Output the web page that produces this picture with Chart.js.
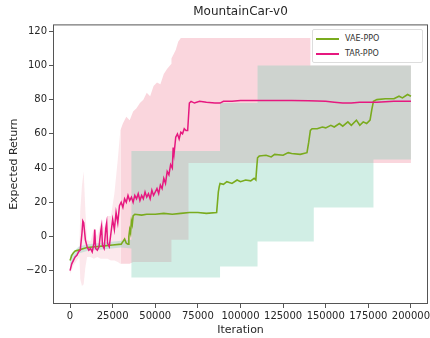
<!DOCTYPE html>
<html>
<head>
<meta charset="utf-8">
<script src="https://cdn.jsdelivr.net/npm/chart.js@4.4.0/dist/chart.umd.min.js"></script>
<style>
  html, body { margin: 0; padding: 0; background: #fff; }
  #wrap { position: relative; width: 430px; height: 338px; }
  #legend {
    position: absolute; left: 312px; top: 29px; width: 111px; height: 34px;
    background: #fff; border: 1px solid #ddd; border-radius: 2px; box-sizing: border-box;
    font: 8px "DejaVu Sans"; color: #333;
  }
  .item { position: absolute; left: 3px; height: 10px; line-height: 10px; }
  .item span.sw { position: absolute; left: 0; top: 4px; width: 23px; height: 2px; }
  .item span.tx { position: absolute; left: 29px; top: 0; white-space: nowrap; }
</style>
</head>
<body>
<div id="wrap">
  <canvas id="chart" width="430" height="338"></canvas>
  <div id="legend">
    <div class="item" style="top:4px"><span class="sw" style="background:#7aab1e"></span><span class="tx">VAE-PPO</span></div>
    <div class="item" style="top:19px"><span class="sw" style="background:#e6187f"></span><span class="tx">TAR-PPO</span></div>
  </div>
</div>
<script>
const xTicks = [0, 25000, 50000, 75000, 100000, 125000, 150000, 175000, 200000];
const yTicks = [-20, 0, 20, 40, 60, 80, 100, 120];

// TAR-PPO mean
const tarX = [0, 1000, 2000, 3000, 4000, 5000, 6000, 7000, 7500, 8000, 9000, 10000, 11000, 12000, 13000,
  14000, 14500, 15000, 16000, 17000, 18000, 18500, 19000, 20000, 21000, 21500, 22000, 23000, 24000, 25000,
  26000, 27000, 28000, 29000, 30000, 31000, 32000, 33000, 34000, 35000, 36000, 37000, 38000, 39000, 40000,
  41000, 42000, 43000, 44000, 45000, 46000, 47000, 48000, 49000, 50000, 51000, 52000, 53000, 54000, 55000,
  56000, 57000, 58000, 59000, 60000, 60500, 61000, 62000, 63000, 64000, 65000, 66000, 67000, 68000, 69000,
  70000, 71000, 73000, 76000, 80000, 85000, 88000, 90000, 95000, 100000, 110000, 120000, 130000, 140000,
  150000, 155000, 160000, 165000, 170000, 180000, 190000, 200000];
const tarY = [-20, -16, -14, -12, -11, -9, -8, 2, 9, 8, -2, -6, -8, -7, -9,
  -4, 4, -7, -8, -6, 3, 6, -5, -7, 5, 8, -4, -6, 2, 10,
  4, 14, 8, 18, 20, 17, 22, 20, 24, 21, 23, 20, 24, 22, 25,
  21, 24, 22, 26, 23, 25, 22, 27, 24, 26, 28, 25, 30, 28, 34,
  31, 38, 36, 42, 40, 52, 48, 58, 60, 57, 61, 60, 63, 62, 62,
  78, 79, 78, 79, 78.5, 78, 78, 79, 79, 79.5, 79.5, 79.5, 79.5, 79.3,
  79, 78.5, 78, 78, 78.5, 78.5, 79, 79];

// VAE-PPO mean
const vaeX = [0, 1000, 2000, 3000, 5000, 8000, 10000, 15000, 20000, 25000, 30000, 31000, 32000, 33000, 34000,
  34500, 35000, 35500, 36000, 36500, 37000, 38000, 42000, 45000, 50000, 55000, 60000, 65000, 70000, 75000,
  80000, 86000, 86500, 87000, 87500, 88000, 90000, 92000, 95000, 98000, 100000, 103000, 106000, 108000, 109000,
  109500, 110000, 111000, 115000, 118000, 120000, 125000, 128000, 130000, 135000, 139000, 140000, 141000, 142000, 145000,
  148000, 150000, 153000, 155000, 158000, 160000, 163000, 165000, 168000, 170000, 172000, 174000, 176000, 177000, 178000,
  180000, 185000, 190000, 193000, 195000, 198000, 200000];
const vaeY = [-14, -11, -9.5, -8.5, -8, -7, -6.5, -6, -5.5, -5, -4.5, -3, -1.5, -4, -4.5,
  0, 4, 2, 9, 7, 12, 13, 12.5, 13, 13, 13.5, 13, 13.5, 14, 14,
  13.5, 14, 20, 26, 29, 31, 30.5, 32, 31, 33, 32, 33, 32.5, 34, 33,
  40, 46, 47, 47.5, 46.5, 48, 47.5, 49, 48.5, 48, 49, 55, 62, 63, 63,
  64, 63.5, 65, 64, 66, 64.5, 67, 65, 68, 65, 67, 66, 68, 74, 79,
  80, 80.5, 80.5, 82, 81, 83, 82];

// TAR-PPO spread, early noisy part (faint)
const tarEarlyX = [0, 2000, 4000, 5500, 6000, 7000, 8000, 9000, 10000, 12000, 14000, 16000, 18000, 20000, 22000,
  24000, 26000, 28000, 29500];
const tarEarlyHi = [-17, -12, -9, -6, 15, 30, 38, 15, -2, -3, 5, 0, 8, 5, 12,
  12, 25, 45, 62];
const tarEarlyLo = [-22, -17, -14, -12, -25, -29, -28, -18, -12, -12, -13, -12, -13, -13, -13,
  -14, -14, -15, -16];

// TAR-PPO spread, main part
const tarBandX = [29500, 31000, 33000, 35000, 37000, 39000, 41000, 43000, 45000, 47000, 49000, 51000,
  53000, 55000, 57000, 59500, 59500, 62000, 63500, 65000, 67000, 69500, 69500, 141000, 141000, 200000];
const tarHi = [62, 66, 70, 68, 73, 75, 78, 80, 84, 82, 88, 90,
  89, 95, 98, 101, 104, 109, 114, 116, 116, 116, 116, 116, 100, 100];
const tarLo = [-16, -16, -16, -16, -15, -15, -15, -15, -15, -15, -15, -15,
  -15, -15, -15, -15, -2, -2, -2, -2, -2, -2, 43, 43, 43, 43];

// VAE-PPO spread
const vaeBandX = [0, 5000, 10000, 20000, 30000, 36000, 36000, 88000, 88000, 110000, 110000, 143000, 143000, 178000, 178000, 200000];
const vaeHi = [-11, -6, -4.5, -3.5, -2.5, -2, 50, 50, 78, 78, 100, 100, 100, 100, 100, 100];
const vaeLo = [-17, -10, -8.5, -7.5, -6.5, -7, -24, -24, -17.5, -17.5, -3, -3, 17, 17, 45, 45];

const FONT = 'DejaVu Sans';
const TEXT = '#262626';

const pts = (xs, ys) => xs.map((x, i) => ({ x: x, y: ys[i] }));

const frame = {
  id: 'frame',
  afterDatasetsDraw(chart) {
    const a = chart.chartArea;
    const c = chart.ctx;
    c.save();
    c.strokeStyle = '#555';
    c.lineWidth = 1;
    c.strokeRect(a.left + 0.5, a.top + 0.5, a.right - a.left - 1, a.bottom - a.top - 1);
    c.restore();
  }
};

const band = (data, color, fill) => ({
  data: data, borderWidth: 0, pointRadius: 0, fill: fill,
  backgroundColor: color, borderColor: 'rgba(0,0,0,0)', tension: 0
});

new Chart(document.getElementById('chart'), {
  type: 'line',
  data: {
    datasets: [
      { label: 'TAR-PPO', data: pts(tarX, tarY), borderColor: '#e6187f', borderWidth: 1.5, pointRadius: 0, fill: false },
      { label: 'VAE-PPO', data: pts(vaeX, vaeY), borderColor: '#7aab1e', borderWidth: 1.6, pointRadius: 0, fill: false },
      band(pts(vaeBandX, vaeHi), 'rgba(120,205,180,0.34)', '+1'),
      band(pts(vaeBandX, vaeLo), 'rgba(0,0,0,0)', false),
      band(pts(tarBandX, tarHi), 'rgba(240,140,160,0.36)', '+1'),
      band(pts(tarBandX, tarLo), 'rgba(0,0,0,0)', false),
      band(pts(tarEarlyX, tarEarlyHi), 'rgba(240,140,160,0.2)', '+1'),
      band(pts(tarEarlyX, tarEarlyLo), 'rgba(0,0,0,0)', false)
    ]
  },
  options: {
    responsive: false,
    animation: false,
    layout: { padding: { left: 8, right: 2, top: 0, bottom: 0 } },
    plugins: {
      legend: { display: false },
      tooltip: { enabled: false },
      title: {
        display: true, text: 'MountainCar-v0', fullSize: false, color: TEXT,
        font: { family: FONT, size: 12, weight: 'normal' }, padding: { top: 5, bottom: 5 }
      }
    },
    scales: {
      x: {
        type: 'linear', min: -10000, max: 210000,
        afterBuildTicks: s => { s.ticks = xTicks.map(v => ({ value: v })); },
        afterFit: s => { s.height = 34; s.paddingLeft = 0; s.paddingRight = 0; },
        grid: { drawOnChartArea: false, tickLength: 4, color: '#555' },
        border: { display: false },
        ticks: { color: TEXT, font: { family: FONT, size: 10 }, padding: 2, maxRotation: 0, autoSkip: false,
          callback: v => String(v) },
        title: { display: true, text: 'Iteration', color: TEXT, font: { family: FONT, size: 11 }, padding: { top: 0, bottom: 1 } }
      },
      y: {
        min: -39.5, max: 124,
        afterBuildTicks: s => { s.ticks = yTicks.map(v => ({ value: v })); },
        afterFit: s => { s.width = 45; s.paddingTop = 0; s.paddingBottom = 0; },
        grid: { drawOnChartArea: false, tickLength: 4, color: '#555' },
        border: { display: false },
        ticks: { color: TEXT, font: { family: FONT, size: 10 }, padding: 2,
          callback: v => (v < 0 ? '\u2212' + Math.abs(v) : String(v)) },
        title: { display: true, text: 'Expected Return', color: TEXT, font: { family: FONT, size: 11 }, padding: { top: 0, bottom: 2 } }
      }
    }
  },
  plugins: [frame]
});
</script>
</body>
</html>
